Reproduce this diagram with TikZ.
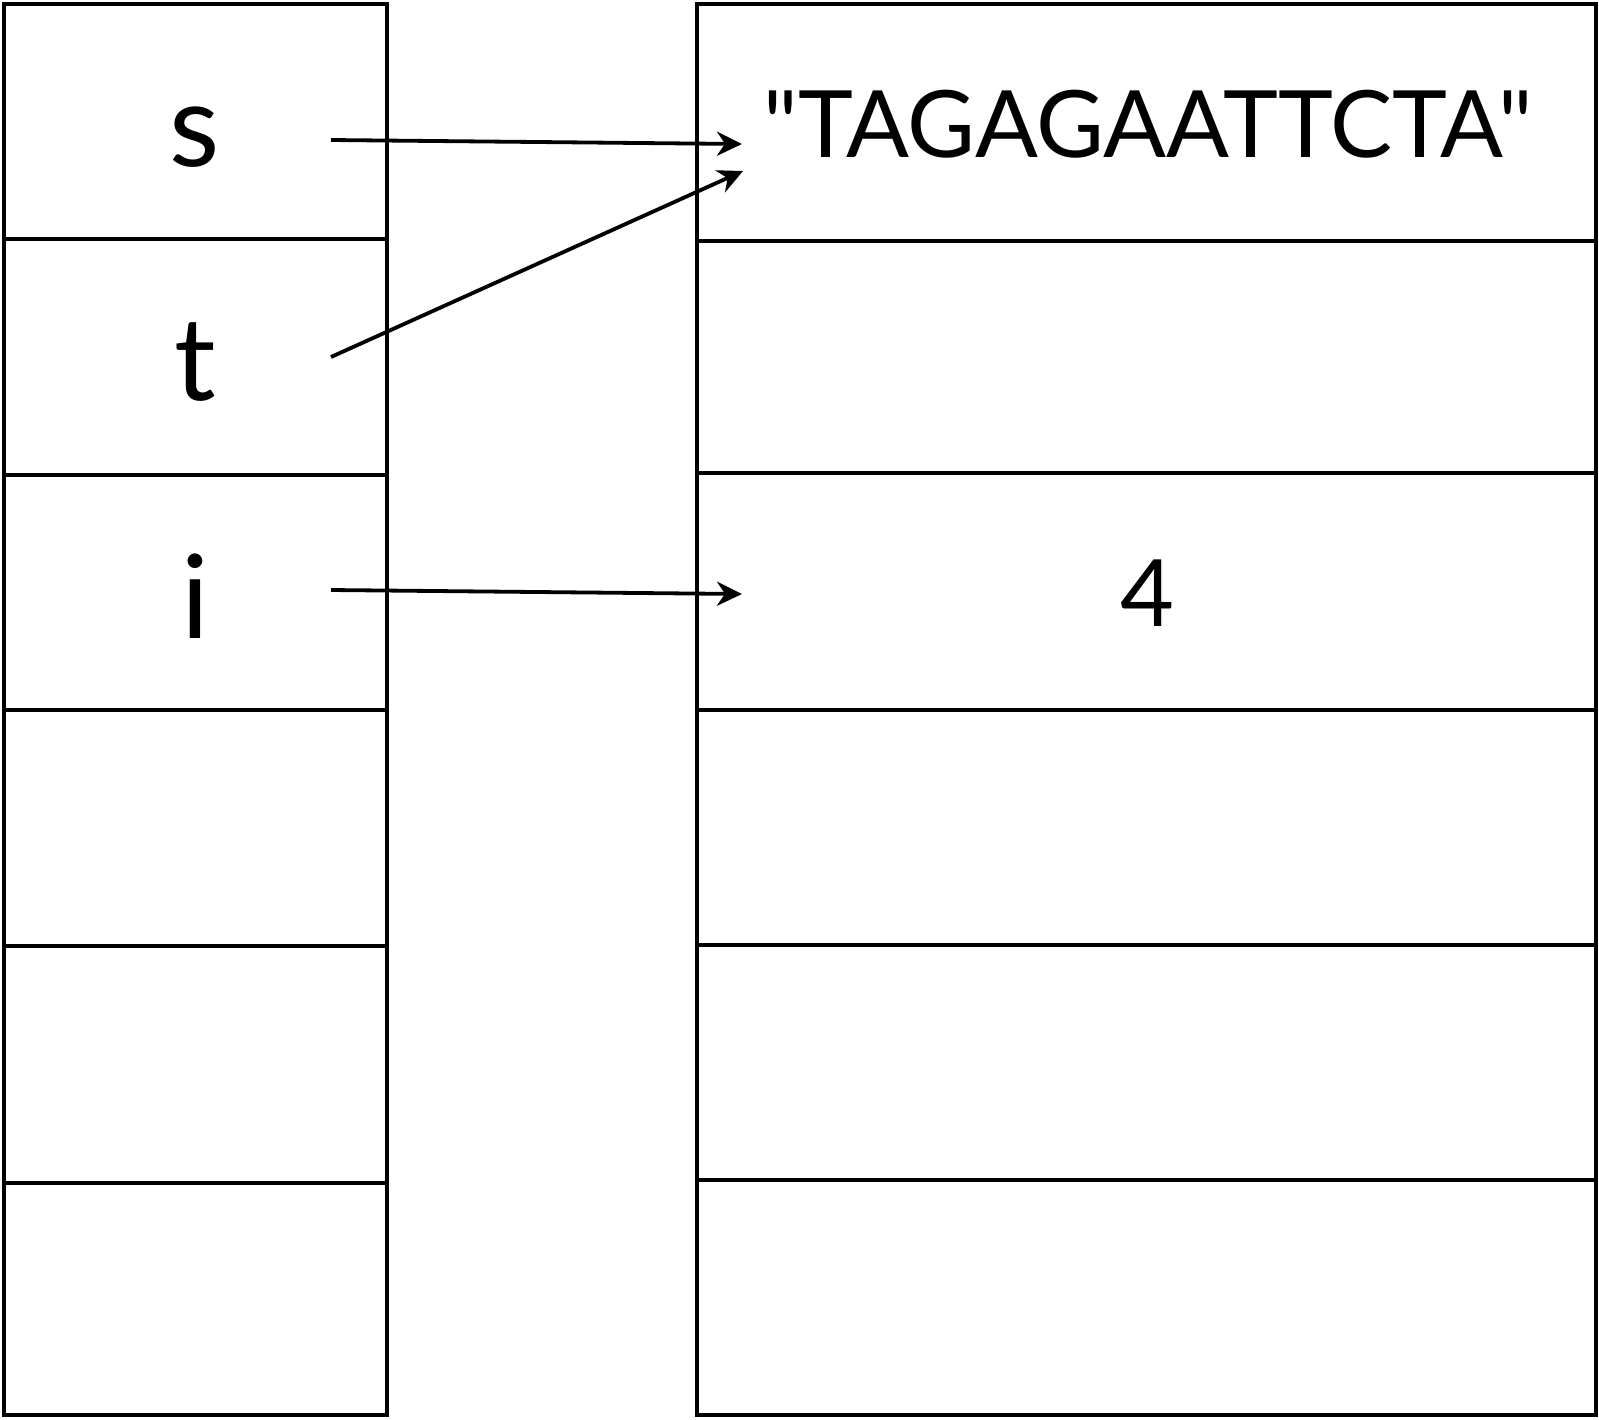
\documentclass[tikz,border=0pt]{standalone}
\usepackage{fontspec}
\setmainfont{Lato}[Ligatures=TeXOff]
\usetikzlibrary{arrows.meta}
\begin{document}
\begin{tikzpicture}[x=0.5pt,y=-0.5pt,
  cell/.style={draw=black,line width=2pt,inner sep=0pt,outer sep=0pt},
  lab/.style={inner sep=0pt,font=\fontsize{58}{64}\selectfont},
  val/.style={inner sep=0pt,font=\fontsize{46.5}{54}\selectfont},
  ptr/.style={line width=1.9pt,-{Stealth[length=12.5pt,width=12pt,inset=4pt]}}]
\useasboundingbox (0,0) rectangle (1599,1419);
% left column cells
\foreach \n/\a/\b in {L1/4/239,L2/239/475,L3/475/710,L4/710/946,L5/946/1183,L6/1183/1415}{
  \node[cell,minimum width=191.5pt,minimum height={(\b-\a)*0.5pt}] (\n) at (195.5,{(\a+\b)/2}) {};
}
% right column cells
\foreach \n/\a/\b in {R1/4/241,R2/241/473,R3/473/710,R4/710/945,R5/945/1180,R6/1180/1415}{
  \node[cell,minimum width=449.5pt,minimum height={(\b-\a)*0.5pt}] (\n) at (1146.5,{(\a+\b)/2}) {};
}
% labels
\node[lab,anchor=base] (s) at (195,166) {s};
\node[lab,anchor=base] (t) at (195,400) {t};
\node[lab,anchor=base] (i) at (195,638) {i};
\node[val,anchor=base] (str) at (1148,157) {"TAGAGAATTCTA"};
\node[val,anchor=base] (four) at (1147,626) {4};
% pointer endpoints
\coordinate (ps) at (331,140);
\coordinate (pt) at (331,357);
\coordinate (pi) at (331,590);
\coordinate (es) at (742,144);
\coordinate (et) at (743,171);
\coordinate (ei) at (742,594);
\draw[ptr] (ps) -- (es);
\draw[ptr] (pt) -- (et);
\draw[ptr] (pi) -- (ei);
\end{tikzpicture}
\end{document}
